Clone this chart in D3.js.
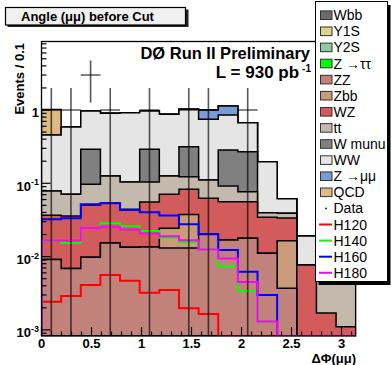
<!DOCTYPE html>
<html><head><meta charset="utf-8">
<script src="https://cdn.jsdelivr.net/npm/d3@7"></script>
<style>
html,body{margin:0;padding:0;background:#fff;}
svg{display:block;font-family:"Liberation Sans",Arial,Helvetica,sans-serif;}
</style></head><body>
<svg id="c" width="391" height="365"></svg>
<script>
// ΔΦ(μμ) binning: 16 equal bins over [0, π]
const nBins = 16;
const phiMax = Math.PI;

// Background expectations per bin, bottom of the stack first
const Wbb   = [0.00003,0.00002,0.00004,0.00003,0.00002,0.00003,0.00002,0.00003,0.00002,0.00002,0.00001,0.00001,0,0,0,0];
const Y1S   = [0.00002,0.00001,0,0,0.00001,0,0,0,0,0,0,0,0,0,0,0];
const Y2S   = [0.00001,0,0.00001,0,0,0,0,0,0,0,0,0,0,0,0,0];
const Ztautau = [0.00005,0.00004,0.00006,0.00004,0.00003,0.00005,0.00004,0.00003,0.00002,0.00002,0.00001,0,0,0,0,0];
const ZZ    = [0.0090,0.0068,0.0097,0.0152,0.0134,0.0134,0.0130,0.0130,0.0203,0.0168,0.0178,0.0111,0.0037,0,0,0];
const Zbb   = [0,0,0,0,0,0,0.0113,0.0246,0,0,0,0,0.0128,0,0,0];
const WZ    = [0.0274,0.0290,0.0409,0.0387,0.0308,0.0422,0.0465,0.0453,0.0421,0.0393,0.0383,0.0233,0.0172,0.0077,0.0017,0.0011];
const ttbar = [0.0422,0.0350,0.0463,0.0719,0.0600,0.0486,0.0550,0.0402,0.0485,0.0358,0.0207,0.0053,0.0053,0,0.0068,0.0064];
const Wmunu = [0,0,0.1941,0,0,0.1868,0,0.1927,0,0.1927,0.1931,0,0,0,0,0];
const WW    = [0.3775,0.5154,0.6781,0.7758,0.8146,0.6781,0.7479,0.7065,0.6359,0.5702,0.4012,0.1574,0.0227,0.0114,0,0];
const Zmumu = [0,0,0,0,0,0,0,0,0.2532,0.2791,0,0,0,0,0,0];
const QCD   = [0.5598,0,0,0,0,0,0,0,0,0,0,0,0,0,0,0];

// Higgs signal shapes (drawn unstacked)
const H120 = [0.00242,0.00290,0.00410,0.00561,0.00469,0.00322,0.00350,0.00197,0.00165,0,0,0,0,0,0,0];
const H140 = [0.0163,0.0153,0.0246,0.0285,0.0259,0.0224,0.0181,0.0158,0.0127,0.0073,0.0034,0.0013,0,0,0,0];
const H160 = [0.0323,0.0333,0.0517,0.0534,0.0432,0.0402,0.0364,0.0277,0.0202,0.0123,0.0062,0.0030,0,0,0,0];
const H180 = [0.0166,0.0166,0.0246,0.0256,0.0234,0.0207,0.0189,0.0167,0.0125,0.0094,0.0045,0.0013,0,0,0,0];

// Observed events
const dataCounts = [1,1,3,1,0,1,0,1,1,0,1,0,0,0,0,0];

// Axis ticks
const xTicks = [0,0.5,1,1.5,2,2.5,3];
const xTickLabels = ["0","0.5","1","1.5","2","2.5","3"];
const yTicks = [1e-3,1e-2,1e-1,1];
const yTickBase = ["10","10","10","1"];
const yTickExp  = ["-3","-2","-1",""];

const stackSeries = [
  {name:"Wbb",    values:Wbb,    color:"#6b6b6b"},
  {name:"Y1S",    values:Y1S,    color:"#d9d38c"},
  {name:"Y2S",    values:Y2S,    color:"#8dc9a3"},
  {name:"Z →ττ",  values:Ztautau,color:"#00ff00"},
  {name:"ZZ",     values:ZZ,     color:"#c0827b"},
  {name:"Zbb",    values:Zbb,    color:"#c99b7b"},
  {name:"WZ",     values:WZ,     color:"#d25c5c"},
  {name:"tt",     values:ttbar,  color:"#c4b9ad"},
  {name:"W munu", values:Wmunu,  color:"#808080"},
  {name:"WW",     values:WW,     color:"#e5e5e5"},
  {name:"Z →μμ",  values:Zmumu,  color:"#7b9bd6"},
  {name:"QCD",    values:QCD,    color:"#ddb984"}
];
const signalSeries = [
  {name:"H120", values:H120, color:"#ff0000"},
  {name:"H140", values:H140, color:"#00ff00"},
  {name:"H160", values:H160, color:"#0000ff"},
  {name:"H180", values:H180, color:"#ff00ff"}
];

const svg = d3.select("#c");
const frame = {l:41.5, r:355.7, t:41.5, b:336};

const x = d3.scaleLinear().domain([0, phiMax]).range([frame.l, frame.r]);
const y = d3.scaleLog().domain([8.256e-4, 8.6]).range([frame.b, frame.t]).clamp(true);
const yMin = y.domain()[0];
const yv = v => y(Math.max(v, yMin));

const edges = d3.range(nBins + 1).map(i => i * phiMax / nBins);

svg.append("defs").append("clipPath").attr("id","frameClip")
  .append("rect").attr("x",frame.l).attr("y",frame.t)
  .attr("width",frame.r-frame.l).attr("height",frame.b-frame.t);

const plot = svg.append("g").attr("clip-path","url(#frameClip)");
const line = d3.line();

// Build a closed histogram outline for the given per-bin tops
function histPoints(tops) {
  const pts = [[x(edges[0]), frame.b]];
  tops.forEach((v,i) => {
    pts.push([x(edges[i]), yv(v)]);
    pts.push([x(edges[i+1]), yv(v)]);
  });
  pts.push([x(edges[nBins]), frame.b]);
  return pts;
}

// Stacked backgrounds: cumulative sums, drawn from the top layer down
const rows = d3.range(nBins).map(i => {
  const r = {};
  stackSeries.forEach(s => r[s.name] = s.values[i]);
  return r;
});
const stacked = d3.stack().keys(stackSeries.map(s => s.name))(rows);
for (let j = stacked.length - 1; j >= 0; j--) {
  const tops = stacked[j].map(d => d[1]);
  plot.append("path")
    .attr("d", line(histPoints(tops)) + "Z")
    .attr("fill", stackSeries[j].color)
    .attr("stroke", "#000")
    .attr("stroke-width", 1.5)
    .attr("stroke-linejoin","miter");
}

// Signal overlays
signalSeries.forEach(s => {
  plot.append("path")
    .attr("d", line(histPoints(s.values)))
    .attr("fill","none")
    .attr("stroke", s.color)
    .attr("stroke-width", 2);
});

// Data with Poisson error bars
const dataG = plot.append("g").attr("stroke","#000").attr("stroke-opacity",0.65).attr("stroke-width",1.6);
dataCounts.forEach((n,i) => {
  if (n <= 0) return;
  const cx = x((edges[i] + edges[i+1]) / 2);
  const err = Math.sqrt(n);
  dataG.append("line").attr("x1",cx).attr("x2",cx)
    .attr("y1", yv(n - err)).attr("y2", yv(n + err));
  dataG.append("line").attr("x1", x(edges[i])).attr("x2", x(edges[i+1]))
    .attr("y1", yv(n)).attr("y2", yv(n));
});

// Frame and ticks
const axG = svg.append("g").attr("stroke","#000").attr("fill","none");
axG.append("rect").attr("x",frame.l).attr("y",frame.t)
  .attr("width",frame.r-frame.l).attr("height",frame.b-frame.t).attr("stroke-width",1.3);

// log-axis ticks: long at decades, short at 2..9
for (let d = -4; d <= 1; d++) {
  for (let k = 1; k <= 9; k++) {
    const v = k * Math.pow(10, d);
    if (v < y.domain()[0] || v > y.domain()[1]) continue;
    const len = k === 1 ? 9 : 5;
    axG.append("line").attr("x1",frame.l).attr("x2",frame.l+len)
      .attr("y1",y(v)).attr("y2",y(v)).attr("stroke-width",1.2);
  }
}
// linear x ticks every 0.1, long every 0.5
d3.range(0, 32).forEach(k => {
  const v = k / 10;
  if (v > phiMax) return;
  const len = k % 5 === 0 ? 9 : 4.5;
  axG.append("line").attr("x1",x(v)).attr("x2",x(v))
    .attr("y1",frame.b).attr("y2",frame.b-len).attr("stroke-width",1.2);
});

const txt = svg.append("g").attr("fill","#000");
xTicks.forEach((v,i) => {
  txt.append("text").attr("x",x(v)).attr("y",348)
    .attr("text-anchor","middle").attr("font-size",13).attr("font-weight","bold")
    .text(xTickLabels[i]);
});
yTicks.forEach((v,i) => {
  const t = txt.append("text").attr("x",39).attr("y",y(v)+7.5)
    .attr("text-anchor","end").attr("font-size",13).attr("font-weight","bold");
  t.append("tspan").text(yTickBase[i]);
  if (yTickExp[i]) t.append("tspan").attr("dy",-5.5).attr("font-size",9).text(yTickExp[i]);
});

// Axis titles
txt.append("text").attr("x",356).attr("y",363).attr("text-anchor","end")
  .attr("font-size",13).attr("font-weight","bold").text("ΔΦ(μμ)");
txt.append("text").attr("transform","translate(23.5,43) rotate(-90)")
  .attr("text-anchor","end").attr("font-size",13).attr("font-weight","bold")
  .text("Events / 0.1");

// Experiment label
txt.append("text").attr("x",310).attr("y",59).attr("text-anchor","end")
  .attr("font-size",16.5).attr("font-weight","bold")
  .text("DØ Run II Preliminary");
const lumi = txt.append("text").attr("x",311).attr("y",78).attr("text-anchor","end")
  .attr("font-size",17).attr("font-weight","bold");
lumi.append("tspan").text("L = 930 pb");
lumi.append("tspan").attr("dx",3).attr("dy",-6).attr("font-size",10).text("-1");

// Title box
const tb = svg.append("g");
tb.append("rect").attr("x",7.5).attr("y",9.5).attr("width",181).attr("height",17.5).attr("fill","#222");
tb.append("rect").attr("x",5.5).attr("y",7.5).attr("width",180).attr("height",17.5)
  .attr("fill","#f0f0f0").attr("stroke","#000").attr("stroke-width",1.2);
tb.append("text").attr("x",21).attr("y",20.7).attr("font-size",13).attr("font-weight","bold")
  .text("Angle (μμ) before Cut");

// Legend
const lg = svg.append("g");
lg.append("rect").attr("x",318.5).attr("y",5).attr("width",72).attr("height",280).attr("fill","#000");
lg.append("rect").attr("x",315.5).attr("y",1.5).attr("width",72).attr("height",280)
  .attr("fill","#fff").attr("stroke","#000").attr("stroke-width",1);
const legendItems = stackSeries.map(s => ({name:s.name, type:"box", color:s.color}))
  .concat([{name:"Data", type:"dot"}])
  .concat(signalSeries.map(s => ({name:s.name, type:"line", color:s.color})));
legendItems.forEach((it,i) => {
  const cy = 15.2 + 16.1 * i;
  if (it.type === "box") {
    lg.append("rect").attr("x",320.5).attr("y",cy-4.3).attr("width",11.5).attr("height",8.6)
      .attr("fill",it.color).attr("stroke","#333").attr("stroke-width",1);
  } else if (it.type === "dot") {
    lg.append("circle").attr("cx",326).attr("cy",cy).attr("r",0.9).attr("fill","#000");
  } else {
    lg.append("line").attr("x1",319).attr("x2",332).attr("y1",cy).attr("y2",cy)
      .attr("stroke",it.color).attr("stroke-width",2);
  }
  lg.append("text").attr("x",333.5).attr("y",cy+5).attr("font-size",14).text(it.name);
});
</script>
</body></html>
